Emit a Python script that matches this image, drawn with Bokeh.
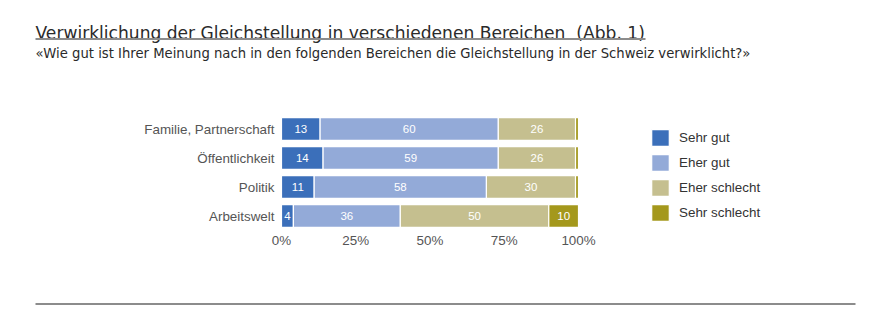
from bokeh.plotting import figure
from bokeh.models import (Label, BoxAnnotation, Legend, LegendItem, ColumnDataSource, Range1d)
from bokeh.embed import file_html
from bokeh.resources import INLINE
from bokeh.core.properties import value

# ---- data ----
categories = ["Familie, Partnerschaft", "Öffentlichkeit", "Politik", "Arbeitswelt"]
series = ["Sehr gut", "Eher gut", "Eher schlecht", "Sehr schlecht"]
sehr_gut = [13, 14, 11, 4]
eher_gut = [60, 59, 58, 36]
eher_schlecht = [26, 26, 30, 50]
sehr_schlecht = [1, 1, 1, 10]
colors = ["#3b6fba", "#93aad8", "#c5bf8f", "#a4981c"]
ticks = [0, 25, 50, 75, 100]
tick_labels = ["0%", "25%", "50%", "75%", "100%"]

title_text = "Verwirklichung der Gleichstellung in verschiedenen Bereichen\u00a0 (Abb. 1)"
subtitle_text = "«Wie gut ist Ihrer Meinung nach in den folgenden Bereichen die Gleichstellung in der Schweiz verwirklicht?»"

FONT = "Liberation Sans"
TITLE_FONT = "DejaVu Sans"
W, H = 873, 329
PLOT_LEFT, PLOT_RIGHT = 281, 578          # pixel extent of 0% .. 100%
ROW0, ROW_STEP = 128.5, 29                # pixel centre of first row, row spacing

values = [sehr_gut, eher_gut, eher_schlecht, sehr_schlecht]
rows = list(range(len(categories)))
data = {"row": rows, "cat": categories}
for name, vals in zip(series, values):
    data[name] = vals
source = ColumnDataSource(data)

k = (PLOT_RIGHT - PLOT_LEFT) / 100.0
x_range = Range1d(-PLOT_LEFT / k, (W - PLOT_LEFT) / k)
y_range = Range1d((H - ROW0) / ROW_STEP, -ROW0 / ROW_STEP)   # inverted: row 0 at top

p = figure(width=W, height=H, x_range=x_range, y_range=y_range,
           output_backend="svg", toolbar_location=None, title=None,
           min_border=0)
p.axis.visible = False
p.grid.visible = False
p.outline_line_color = None
p.background_fill_color = "white"
p.border_fill_color = "white"

renderers = p.hbar_stack(series, y="row", height=0.78, color=colors, source=source,
                         line_color="white", line_width=1.2)

# value labels inside bars
lx, ly, lt = [], [], []
for ri in rows:
    left = 0
    for vals in values:
        v = vals[ri]
        if v >= 3:
            lx.append(left + v / 2)
            ly.append(ri)
            lt.append(str(v))
        left += v
p.text(x="x", y="y", text="t", source=ColumnDataSource(dict(x=lx, y=ly, t=lt)),
       text_align="center", text_baseline="middle", text_color="white",
       text_font_size="11.5px", text_font=value(FONT))

# category labels (left of 0%)
p.text(x=[0] * len(categories), y=rows, text=categories, x_offset=-7,
       text_align="right", text_baseline="middle", text_color="#555555",
       text_font_size="13.4px", text_font=value(FONT))

# percentage tick labels below the bars
p.text(x=ticks, y=[len(categories) - 0.5] * len(ticks), text=tick_labels, y_offset=2,
       text_align="center", text_baseline="top", text_color="#555555",
       text_font_size="13.4px", text_font=value(FONT))

# legend
legend = Legend(items=[LegendItem(label=s, renderers=[r]) for s, r in zip(series, renderers)],
                location=(649, 106), orientation="vertical",
                glyph_width=22, glyph_height=21, label_height=21, spacing=4,
                padding=0, margin=0, border_line_color=None, background_fill_alpha=0,
                label_standoff=8, label_text_font_size="13.4px", label_text_font=FONT,
                label_text_color="#333333")
p.add_layout(legend)

# titles (screen units from bottom-left)
p.add_layout(Label(x=35, y=H - 32, x_units="screen", y_units="screen", text=title_text,
                   text_font=TITLE_FONT, text_font_size="17.1px", text_color="#2a2a2a",
                   text_baseline="alphabetic"))
p.add_layout(Label(x=35, y=H - 52.5, x_units="screen", y_units="screen", text=subtitle_text,
                   text_font=TITLE_FONT, text_font_size="13.2px", text_color="#2a2a2a",
                   text_baseline="alphabetic"))

# rules
p.add_layout(BoxAnnotation(left=35, right=645, bottom=H - 39.5, top=H - 37.5,
                           left_units="screen", right_units="screen",
                           bottom_units="screen", top_units="screen",
                           fill_color="#8c8c8c", fill_alpha=1, line_color=None))
p.add_layout(BoxAnnotation(left=35, right=855, bottom=H - 304.5, top=H - 302.5,
                           left_units="screen", right_units="screen",
                           bottom_units="screen", top_units="screen",
                           fill_color="#8c8c8c", fill_alpha=1, line_color=None))

open("out.html", "w").write(file_html(p, INLINE))
